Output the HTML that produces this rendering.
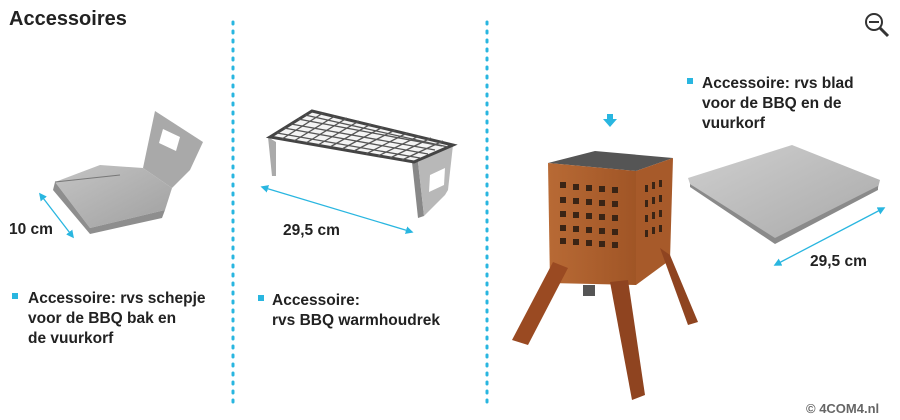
<!DOCTYPE html>
<html><head><meta charset="utf-8"><style>
body{margin:0;background:#fff;}
svg{display:block;font-family:"Liberation Sans","DejaVu Sans",sans-serif;}
.t{font-size:15.5px;font-weight:bold;fill:#222;}
</style></head><body>
<svg width="900" height="420" viewBox="0 0 900 420">
<defs>
<marker id="a" viewBox="0 0 10 10" refX="8" refY="5" markerWidth="6" markerHeight="6" orient="auto-start-reverse"><path d="M0,0L10,5L0,10z" fill="#29b6e0"/></marker>
<linearGradient id="st" x1="0" y1="0" x2="1" y2="1"><stop offset="0" stop-color="#c4c4c4"/><stop offset="1" stop-color="#a0a0a0"/></linearGradient>
<linearGradient id="pl" x1="0" y1="0" x2="1" y2="1"><stop offset="0" stop-color="#cfcfcf"/><stop offset="1" stop-color="#a9a9a9"/></linearGradient>
<linearGradient id="rust" x1="0" y1="0" x2="1" y2="0"><stop offset="0" stop-color="#b86a35"/><stop offset="1" stop-color="#a05526"/></linearGradient>
</defs>
<text x="9" y="25" font-size="20" font-weight="bold" fill="#222">Accessoires</text>
<line x1="233" y1="22" x2="233" y2="405" stroke="#29b6e0" stroke-width="3" stroke-dasharray="2,7" stroke-linecap="round"/>
<line x1="487" y1="22" x2="487" y2="405" stroke="#29b6e0" stroke-width="3" stroke-dasharray="2,7" stroke-linecap="round"/>
<circle cx="874" cy="22" r="8" fill="none" stroke="#333" stroke-width="2"/><line x1="869" y1="22" x2="879" y2="22" stroke="#333" stroke-width="2"/><line x1="880" y1="28" x2="888" y2="36" stroke="#333" stroke-width="3"/>
<!-- scoop -->
<polygon points="155,111 203,142 190,170 172,188 143,168" fill="#a9a9a9"/>
<polygon points="163,129 180,137 176,151 159,143" fill="#fff"/>
<polygon points="55,182 100,165 143,168 172,188 165,210 90,228" fill="url(#st)"/>
<polygon points="55,182 90,228 165,210 162,218 90,234 53,190" fill="#8e8e8e"/>
<line x1="55" y1="182" x2="120" y2="175" stroke="#777" stroke-width="1"/>
<!-- grate -->
<polygon points="268,137 272,176 276,176 276,142" fill="#aaa"/>
<polygon points="412,162 418,218 424,216 418,162" fill="#888"/>
<polygon points="418,162 453,145 448,190 445,195 424,216" fill="#b8b8b8"/>
<polygon points="430,175 445,168 444,185 429,192" fill="#fff"/>
<polygon points="270,137 312,111 453,145 414,162" fill="#f4f4f4" stroke="#444" stroke-width="3"/>
<g stroke="#555" stroke-width="1.3">
<path d="M277,133L420,158M284,128L428,154M291,124L435,150M298,119L442,146M305,115L448,147"/>
<path d="M282,139L323,113M294,141L335,116M306,143L347,118M318,145L359,121M330,147L371,124M342,149L383,127M354,151L395,130M366,154L407,133M378,156L419,136M390,158L431,138M402,160L443,141"/>
</g>
<!-- arrows -->
<line x1="40" y1="194" x2="73" y2="237" stroke="#29b6e0" stroke-width="1.3" marker-start="url(#a)" marker-end="url(#a)"/>
<text x="9" y="234" class="t">10 cm</text>
<line x1="262" y1="187" x2="412" y2="232" stroke="#29b6e0" stroke-width="1.3" marker-start="url(#a)" marker-end="url(#a)"/>
<text x="283" y="235" class="t">29,5 cm</text>
<!-- bullets -->
<rect x="12" y="293" width="6" height="6" fill="#29b6e0"/>
<text x="28" y="303" class="t">Accessoire: rvs schepje</text>
<text x="28" y="323" class="t">voor de BBQ bak en</text>
<text x="28" y="343" class="t">de vuurkorf</text>
<rect x="258" y="295" width="6" height="6" fill="#29b6e0"/>
<text x="272" y="305" class="t">Accessoire:</text>
<text x="272" y="325" class="t">rvs BBQ warmhoudrek</text>
<rect x="687" y="78" width="6" height="6" fill="#29b6e0"/>
<text x="702" y="88" class="t">Accessoire:  rvs blad</text>
<text x="702" y="108" class="t">voor de BBQ en de</text>
<text x="702" y="128" class="t">vuurkorf</text>
<!-- blue down arrow -->
<rect x="607" y="114" width="6" height="5" fill="#29b6e0"/><polygon points="603,119 617,119 610,127" fill="#29b6e0"/>
<!-- fire basket -->
<polygon points="548,163 595,151 673,158 636,171" fill="#555"/>
<polygon points="548,163 636,171 636,285 550,283" fill="url(#rust)"/>
<polygon points="636,171 673,158 670,260 636,285" fill="#a75a2a"/>
<g fill="#3a2415">
<rect x="560" y="182" width="6" height="6"/><rect x="573" y="184" width="6" height="6"/><rect x="586" y="185" width="6" height="6"/><rect x="599" y="186" width="6" height="6"/><rect x="612" y="187" width="6" height="6"/>
<rect x="560" y="197" width="6" height="6"/><rect x="573" y="198" width="6" height="6"/><rect x="586" y="199" width="6" height="6"/><rect x="599" y="200" width="6" height="6"/><rect x="612" y="201" width="6" height="6"/>
<rect x="560" y="211" width="6" height="6"/><rect x="573" y="212" width="6" height="6"/><rect x="586" y="213" width="6" height="6"/><rect x="599" y="214" width="6" height="6"/><rect x="612" y="215" width="6" height="6"/>
<rect x="560" y="225" width="6" height="6"/><rect x="573" y="226" width="6" height="6"/><rect x="586" y="227" width="6" height="6"/><rect x="599" y="228" width="6" height="6"/><rect x="612" y="229" width="6" height="6"/>
<rect x="560" y="238" width="6" height="6"/><rect x="573" y="239" width="6" height="6"/><rect x="586" y="240" width="6" height="6"/><rect x="599" y="241" width="6" height="6"/><rect x="612" y="242" width="6" height="6"/>
<rect x="645" y="185" width="3" height="7"/><rect x="652" y="182" width="3" height="7"/><rect x="659" y="180" width="3" height="7"/>
<rect x="645" y="200" width="3" height="7"/><rect x="652" y="197" width="3" height="7"/><rect x="659" y="195" width="3" height="7"/>
<rect x="645" y="215" width="3" height="7"/><rect x="652" y="212" width="3" height="7"/><rect x="659" y="210" width="3" height="7"/>
<rect x="645" y="230" width="3" height="7"/><rect x="652" y="227" width="3" height="7"/><rect x="659" y="225" width="3" height="7"/>
</g>
<polygon points="553,262 568,268 528,345 512,340" fill="#9a4a22"/>
<polygon points="610,282 628,280 645,395 632,400" fill="#8f4420"/>
<polygon points="660,248 670,255 698,322 688,325" fill="#8f4420"/>
<polygon points="583,285 595,285 595,296 583,296" fill="#555"/>
<!-- plate -->
<polygon points="688,178 792,145 880,180 878,188 775,240 690,184" fill="url(#pl)"/>
<polygon points="690,184 775,238 878,186 878,190 775,244 690,187" fill="#8a8a8a"/>
<line x1="775" y1="265" x2="884" y2="208" stroke="#29b6e0" stroke-width="1.3" marker-start="url(#a)" marker-end="url(#a)"/>
<text x="810" y="266" class="t">29,5 cm</text>
<text x="806" y="413" font-size="13" font-weight="bold" fill="#666">© 4COM4.nl</text>
</svg>
</body></html>
